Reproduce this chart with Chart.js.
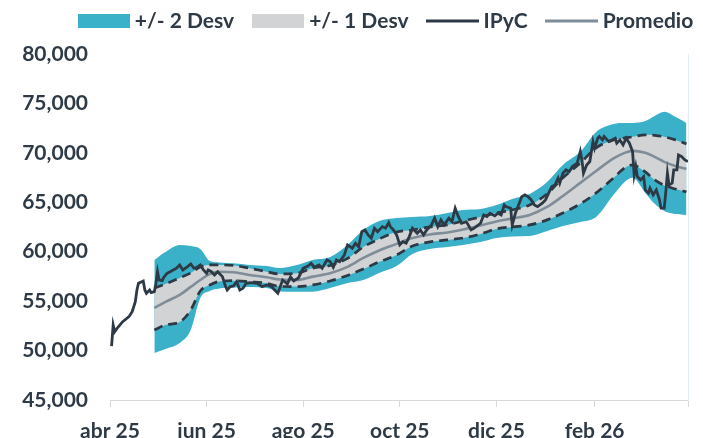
<!DOCTYPE html>
<html><head><meta charset="utf-8">
<script src="https://cdn.jsdelivr.net/npm/chart.js@4.4.1/dist/chart.umd.min.js"></script>
<style>html,body{margin:0;padding:0;background:#fff;overflow:hidden;}#wrap{width:703px;height:438px;position:relative;overflow:hidden;}</style>
</head><body><div id="wrap"><canvas id="c" width="703" height="438"></canvas></div>
<script>
// x values are days since 2025-04-01
const tickDays = [0, 61, 122, 183, 244, 306, 365];
const tickLabels = ['abr 25', 'jun 25', 'ago 25', 'oct 25', 'dic 25', 'feb 26', ''];
const yTicks = [45000, 50000, 55000, 60000, 65000, 70000, 75000, 80000];

const ipycDays = [1,2,3,5,8,12,14,16,17,18,20,21,22,23,25,26,28,29,30,31,33,34,36,38,40,42,44,46,49,51,53,55,57,59,61,62,64,66,68,71,73,74,76,78,80,82,84,86,89,93,96,99,102,104,106,109,112,114,116,119,122,125,127,129,132,134,137,139,141,143,145,148,150,153,155,157,159,161,163,165,167,169,172,174,176,177,179,181,183,185,187,189,191,194,196,198,200,203,205,207,209,211,214,216,218,220,222,225,228,230,234,236,238,240,243,245,247,249,250,253,254,256,258,260,262,264,266,268,270,273,275,277,279,281,283,284,286,288,290,292,295,297,298,299,301,303,305,306,308,309,311,312,315,317,319,320,322,324,326,328,330,331,332,333,335,337,338,340,341,343,345,347,348,350,351,352,353,355,356,358,359,361,363,365];
const ipycValues = [50460,52590,51910,52360,52920,53430,53940,54950,56130,56810,56970,57040,56130,55800,56130,55860,55960,56810,57980,57140,57070,57420,57820,57980,58160,58330,58660,58160,58490,58760,58330,58430,58660,58160,57820,58160,57980,57650,57980,57480,56470,56130,56470,56540,56970,56130,56300,56810,56870,56810,56470,56640,56470,56130,55800,57140,56740,57450,57040,57350,58330,58560,58830,58430,58660,58330,59170,59000,58430,59170,59000,59670,60690,60350,60860,60510,62030,62200,61700,61360,62380,62030,62540,62380,62940,62540,62200,61700,60690,61020,60860,61530,62380,61870,62200,61700,62200,62710,63390,62540,63220,62710,63390,63040,64400,63550,62880,63040,62200,62380,62880,63720,63550,63890,63620,63890,63720,64730,64560,64400,62710,63890,64730,65570,65750,65570,65240,64730,64560,64910,65240,65920,66590,66760,67440,66930,67940,68280,68100,68610,68950,70130,69290,67940,68780,69120,71140,70470,71480,71650,71310,71650,71140,71310,71480,70980,71310,70810,71480,70980,70130,67770,68610,67600,67260,67600,66250,65920,66420,65750,66250,65240,64400,64400,66080,67940,66760,66930,68280,68280,69790,69620,69290,69120];

const bandDays = [28,35,44,51,57,63,69,78,88,99,107,118,128,139,150,160,170,181,191,202,213,223,234,244,254,265,276,286,297,307,318,325,330,338,344,350,357,364];
const sup2 = [59170,59980,60690,60590,60280,59070,58920,58830,58660,58560,58360,58660,59170,59470,60690,62200,63110,63420,63520,63620,63920,64230,64330,64730,65340,65850,67060,68780,70100,72120,72930,73030,73030,73230,73740,74150,73640,73030];
const sup1 = [56330,56740,57350,57850,58460,58660,58660,58610,58330,57980,57750,57820,58330,58610,59320,60480,61290,62000,62200,62510,62710,63110,63520,63920,64230,64730,65850,67470,68980,70500,71310,71510,71620,71820,71770,71620,71310,70910];
const promedio = [54310,54920,55630,56440,57140,57750,57980,57920,57650,57420,57190,57140,57480,57820,58460,59370,60130,60790,61390,61750,61950,62250,62660,63060,63370,63720,64530,65640,66960,68170,69440,70000,70200,70000,69590,69090,68680,68380];
const inf1 = [52080,52590,52890,54110,56030,56640,56990,57070,56970,56810,56490,56470,56640,57040,57600,58260,58970,59670,60580,60990,61190,61390,61800,62310,62510,62710,63220,63920,64840,65950,67470,68480,68780,68070,67260,66710,66350,66050];
const inf2 = [49760,50160,50770,52080,55320,56030,56280,56390,56440,56330,55980,55960,55960,56330,56840,57140,57850,58560,59780,60280,60480,60690,60990,61390,61550,61600,62100,62610,63010,63520,65750,67060,67470,65950,64840,64130,63820,63720];

const TEAL = '#3AB0C9', GRAY = '#D2D3D5', DARK = '#2D3945', MEAN = '#7F8D99', TXT = '#2E3A46';
const FONT = 'Lato';

function pts(xs, ys) { return xs.map((x, i) => ({ x: x, y: ys[i] })); }
function swatch(w, h, color, lh) {
  const c = document.createElement('canvas');
  c.width = w; c.height = h;
  const g = c.getContext('2d');
  g.fillStyle = color;
  if (lh) g.fillRect(0, (h - lh) / 2, w, lh); else g.fillRect(0, 0, w, h);
  return c;
}

function draw() {
  const legendPad = 23.5;
  const padRight = -73.5;          // legend box extends past the canvas so it can sit right of centre
  const rightAxisW = 703 - padRight - 688;
  new Chart(document.getElementById('c'), {
    type: 'line',
    data: {
      datasets: [
        { label: 'IPyC', data: pts(ipycDays, ipycValues), borderColor: DARK, borderWidth: 2.8, pointRadius: 0, tension: 0, fill: false },
        { label: 'Promedio', data: pts(bandDays, promedio), borderColor: MEAN, borderWidth: 2.6, pointRadius: 0, cubicInterpolationMode: 'monotone', fill: false },
        { label: 'inf1', data: pts(bandDays, inf1), borderColor: DARK, borderWidth: 2.7, borderDash: [9, 6], pointRadius: 0, cubicInterpolationMode: 'monotone', fill: false },
        { label: '+/- 1 Desv', data: pts(bandDays, sup1), borderColor: DARK, borderWidth: 2.7, borderDash: [9, 6], backgroundColor: GRAY, pointRadius: 0, cubicInterpolationMode: 'monotone', fill: '-1' },
        { label: 'inf2', data: pts(bandDays, inf2), borderWidth: 0, borderColor: 'rgba(0,0,0,0)', pointRadius: 0, cubicInterpolationMode: 'monotone', fill: false },
        { label: '+/- 2 Desv', data: pts(bandDays, sup2), borderWidth: 0, borderColor: 'rgba(0,0,0,0)', backgroundColor: TEAL, pointRadius: 0, cubicInterpolationMode: 'monotone', fill: '-1' }
      ]
    },
    options: {
      responsive: false,
      animation: false,
      events: [],
      layout: { padding: { top: -13, left: 0, right: padRight, bottom: 0 } },
      plugins: {
        tooltip: { enabled: false },
        legend: {
          display: true, position: 'top', align: 'center',
          labels: {
            usePointStyle: true, pointStyleWidth: 41, boxHeight: 14, padding: legendPad,
            color: TXT, font: { family: FONT, weight: 'bold', size: 21 },
            generateLabels: () => [
              { text: '+/- 2 Desv', pointStyle: swatch(52, 14, TEAL), fillStyle: TEAL, strokeStyle: TEAL, lineWidth: 0, fontColor: TXT, hidden: false, datasetIndex: 5 },
              { text: '+/- 1 Desv', pointStyle: swatch(52, 14, GRAY), fillStyle: GRAY, strokeStyle: GRAY, lineWidth: 0, fontColor: TXT, hidden: false, datasetIndex: 3 },
              { text: 'IPyC', pointStyle: swatch(53, 4, DARK, 3), fillStyle: DARK, strokeStyle: DARK, lineWidth: 0, fontColor: TXT, hidden: false, datasetIndex: 0 },
              { text: 'Promedio', pointStyle: swatch(53, 4, MEAN, 3), fillStyle: MEAN, strokeStyle: MEAN, lineWidth: 0, fontColor: TXT, hidden: false, datasetIndex: 1 }
            ]
          }
        },
        subtitle: { display: true, text: '', weight: 500, position: 'top', font: { size: 1 }, padding: { top: 11.3, bottom: 0 } }
      },
      scales: {
        x: {
          type: 'linear', min: 0, max: 365,
          afterBuildTicks: s => { s.ticks = tickDays.map(v => ({ value: v })); },
          afterFit: s => { s.height = 38; },
          ticks: { autoSkip: false, maxRotation: 0, padding: 12, color: TXT, font: { family: FONT, weight: 'bold', size: 21 },
            callback: (v, i) => tickLabels[i] },
          grid: { display: true, drawOnChartArea: false, drawTicks: true, tickLength: 7, color: '#D9D9D9', lineWidth: 1 },
          border: { display: true, color: '#D9D9D9', width: 1 }
        },
        y: {
          min: 45000, max: 80000,
          afterBuildTicks: s => { s.ticks = yTicks.map(v => ({ value: v })); },
          afterFit: s => { s.width = 110; },
          ticks: { padding: 22, color: TXT, font: { family: FONT, weight: 'bold', size: 21 },
            callback: v => v.toLocaleString('en-US') },
          grid: { display: false, drawTicks: false },
          border: { display: false }
        },
        y2: {
          position: 'right', min: 45000, max: 80000,
          afterFit: s => { s.width = rightAxisW; },
          ticks: { display: false },
          grid: { display: false, drawTicks: false },
          border: { display: true, color: '#E4EEF2', width: 1 }
        }
      }
    }
  });
}
if (document.fonts && document.fonts.load) {
  document.fonts.load('bold 21px Lato').then(draw, draw);
} else { draw(); }
</script>
</body></html>
